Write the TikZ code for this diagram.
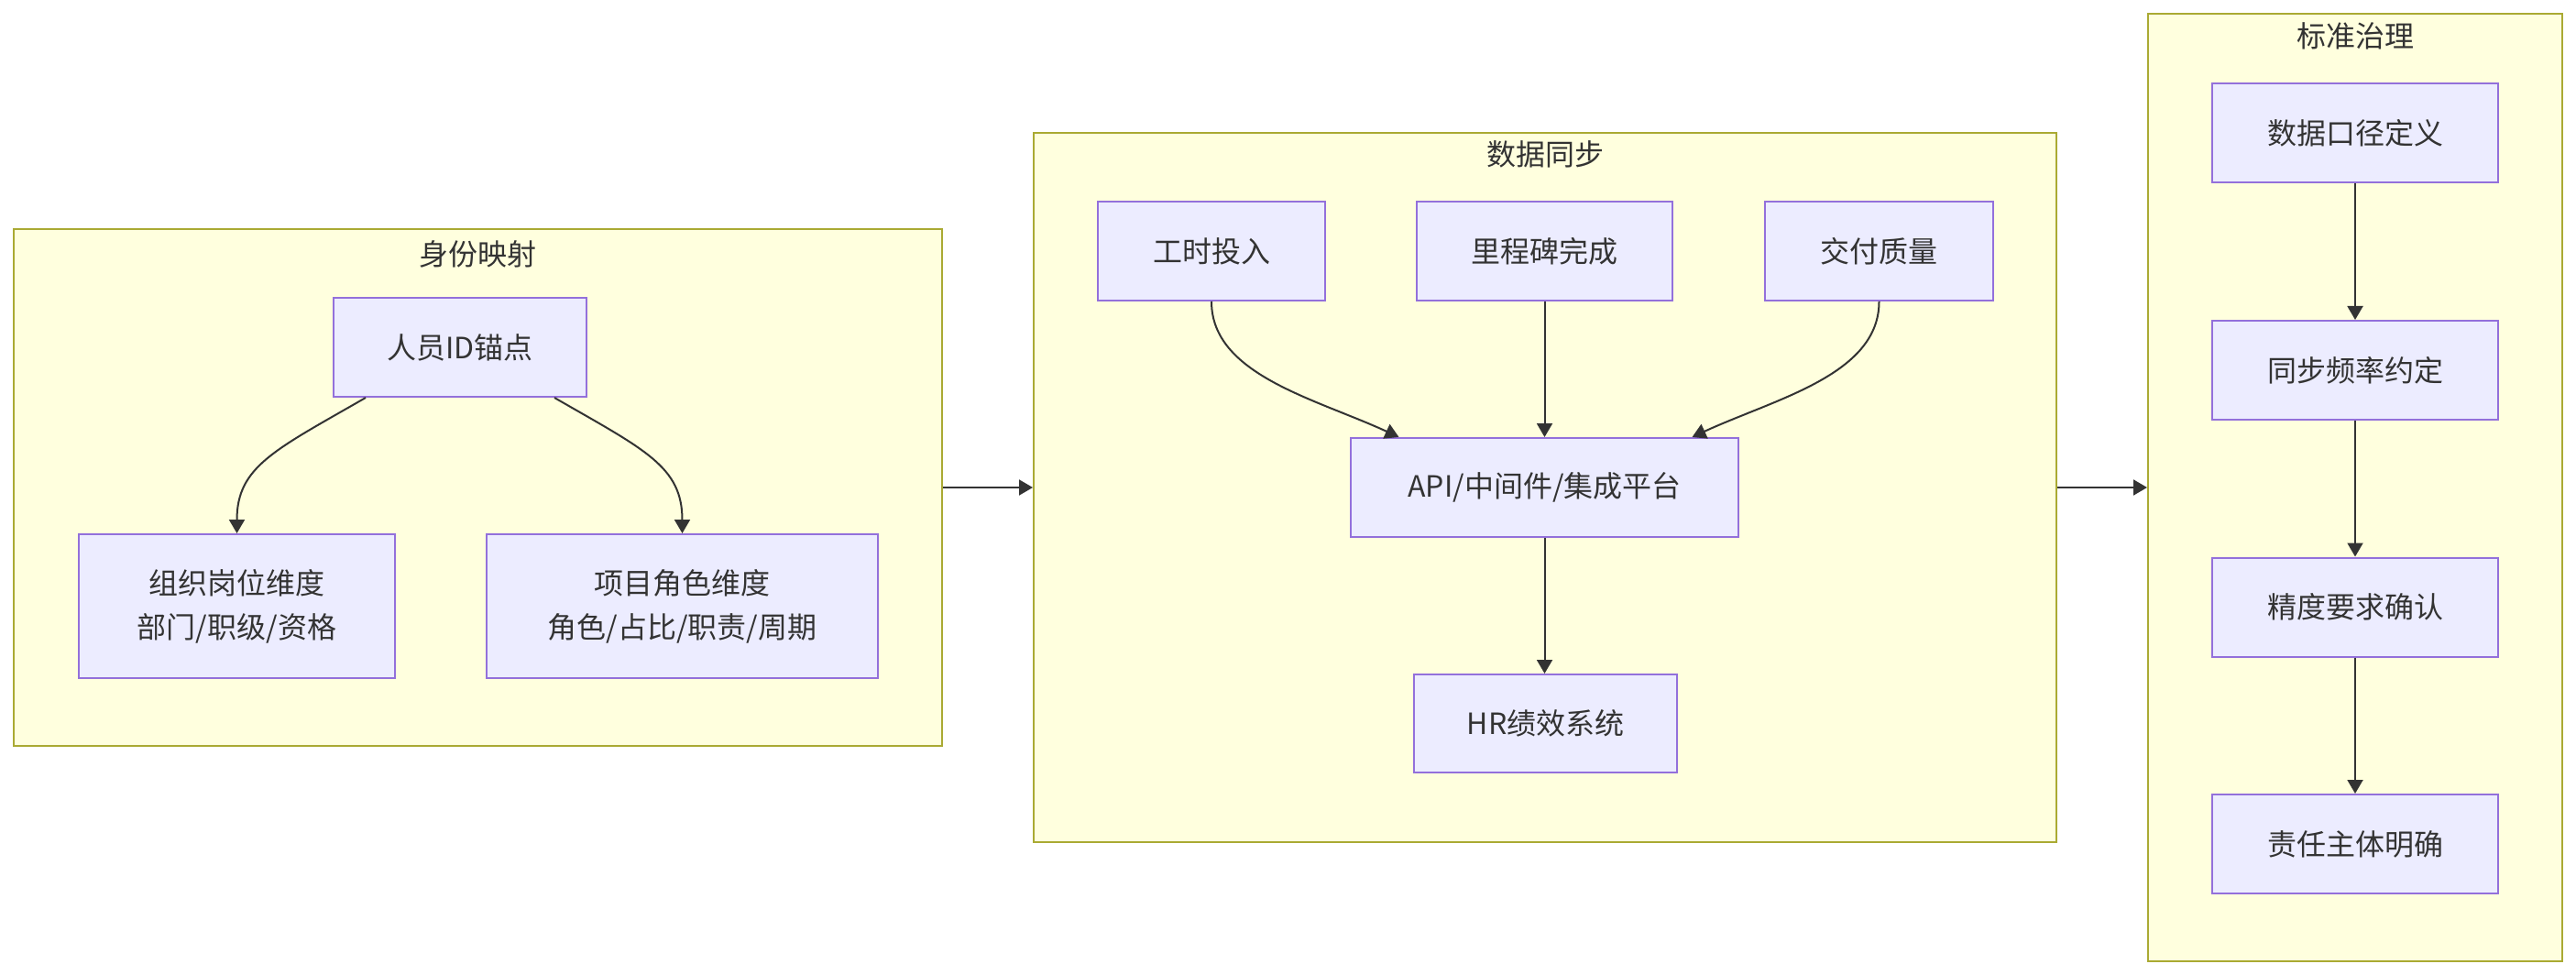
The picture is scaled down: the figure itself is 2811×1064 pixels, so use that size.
\documentclass[tikz,border=0pt]{standalone}
\usepackage{fontspec}
\usepackage{tikz}
\usetikzlibrary{positioning, arrows.meta, calc}
\newfontfamily\cjk{Noto Sans CJK SC}
\definecolor{clfill}{HTML}{FFFFDE}
\definecolor{clline}{HTML}{AAAA33}
\definecolor{ndfill}{HTML}{ECECFF}
\definecolor{ndline}{HTML}{9370DB}
\definecolor{ink}{HTML}{333333}

\begin{document}
\begin{tikzpicture}[x=1pt, y=-1pt, font=\cjk\fontsize{32}{48}\selectfont, text=ink,
    >={Triangle[length=15pt,width=17pt]},
    group/.style={draw=clline, fill=clfill, line width=2pt, inner sep=0pt},
    box/.style={draw=ndline, fill=ndfill, line width=2pt, align=center, inner sep=0pt},
    arr/.style={->, draw=ink, line width=2pt}]
  \useasboundingbox (0,0) rectangle (2811,1064);
  % Identity mapping
  \node[group, minimum width=1013, minimum height=564] (idmap) at (521.5,532) {};
  \node (idmapT) at (521,277) {身份映射};
  \node[box, minimum width=276, minimum height=108] (pid) at (502,379) {人员ID锚点};
  \node[box, minimum width=345, minimum height=157] (org) at (258.5,661.5) {组织岗位维度\\部门/职级/资格};
  \node[box, minimum width=427, minimum height=157] (proj) at (744.5,661.5) {项目角色维度\\角色/占比/职责/周期};
  \draw[arr] ($(pid.south)+(-103,0)$) .. controls ($(pid.south)+(-202,57)$) and ($(org.north)+(0,-73)$) .. (org.north);
  \draw[arr] ($(pid.south)+(103,0)$) .. controls ($(pid.south)+(202,57)$) and ($(proj.north)+(0,-73)$) .. (proj.north);
  % Data sync
  \node[group, minimum width=1116, minimum height=774] (sync) at (1686,532) {};
  \node (syncT) at (1686,168) {数据同步};
  \foreach \n/\t/\x/\w in {hours/工时投入/1322/248, miles/里程碑完成/1685.5/279, quality/交付质量/2050.5/249}{
    \node[box, minimum width=\w, minimum height=108] (\n) at (\x,274) {\t};
  }
  \node[box, minimum width=423, minimum height=108] (api) at (1685.5,532) {API/中间件/集成平台};
  \node[box, minimum width=287, minimum height=107] (hr) at (1686.5,789.5) {HR绩效系统};
  \draw[arr] (hours.south) .. controls ($(hours.south)+(0,80)$) and ($(api.north)+(-250,-42)$) .. ($(api.north)+(-159,0)$);
  \draw[arr] (quality.south) .. controls ($(quality.south)+(0,80)$) and ($(api.north)+(252,-42)$) .. ($(api.north)+(161,0)$);
  \draw[arr] (miles.south)--(miles.south|-api.north);
  \draw[arr] (api.south)--(api.south|-hr.north);
  % Standards governance
  \node[group, minimum width=452, minimum height=1034] (gov) at (2570,532) {};
  \node (govT) at (2570,39) {标准治理};
  \foreach \n/\t/\y in {g1/数据口径定义/145, g2/同步频率约定/404, g3/精度要求确认/662.5, g4/责任主体明确/921}{
    \node[box, minimum width=312, minimum height=108] (\n) at (2570,\y) {\t};
  }
  \draw[arr] (g1)--(g2); \draw[arr] (g2)--(g3); \draw[arr] (g3)--(g4);
  % Between groups
  \draw[arr] (idmap.east)--(sync.west);
  \draw[arr] (sync.east)--(gov.west);
\end{tikzpicture}
\end{document}
